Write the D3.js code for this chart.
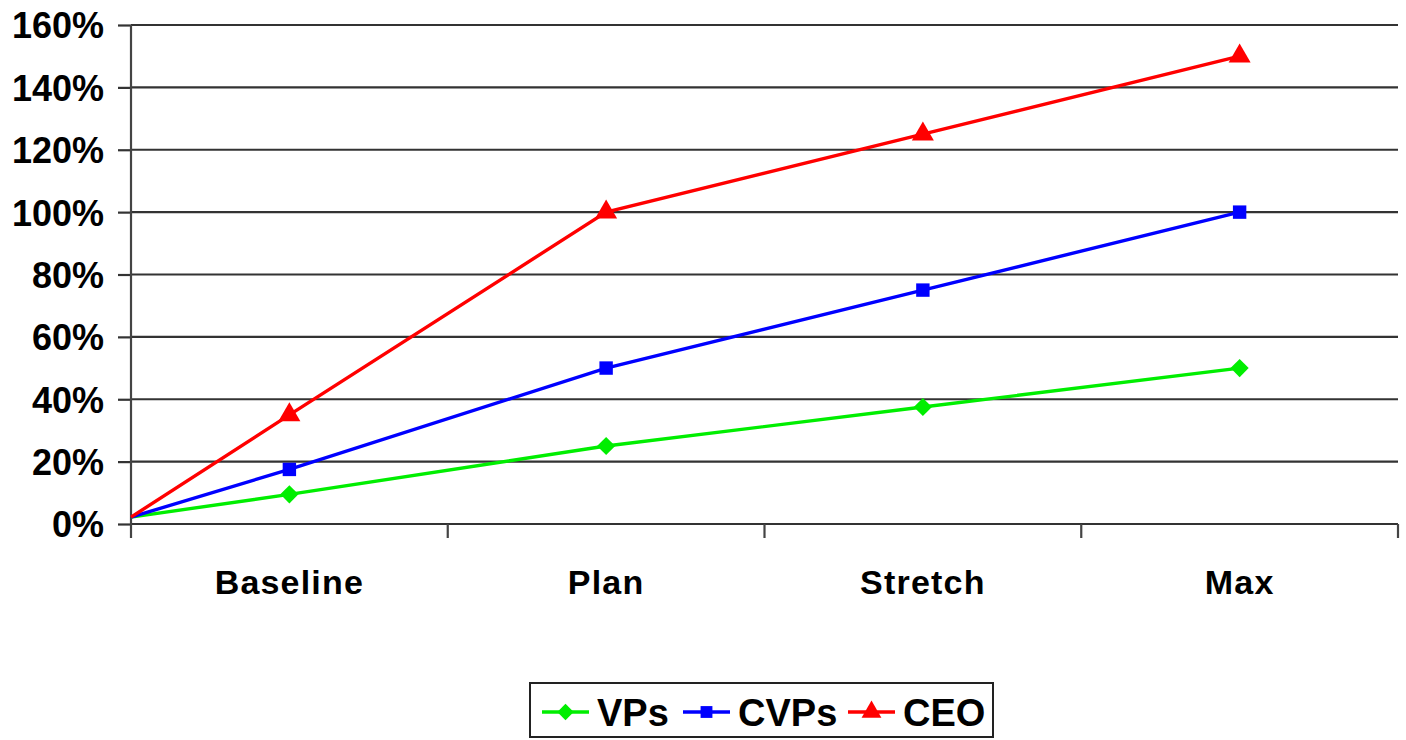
<!DOCTYPE html>
<html>
<head>
<meta charset="utf-8">
<script src="https://cdn.jsdelivr.net/npm/d3@7"></script>
<style>
  body { margin: 0; background: #fff; }
  text { font-family: "Liberation Sans", Arial, sans-serif; font-weight: bold; fill: #000; }
</style>
</head>
<body>
<div id="chart"></div>
<script>
// data
var categories = ["Baseline", "Plan", "Stretch", "Max"];
var startValue = 0.022; // lines begin at the value axis
var vps  = [0.095, 0.25, 0.375, 0.50];
var cvps = [0.175, 0.50, 0.75, 1.00];
var ceo  = [0.35, 1.00, 1.25, 1.50];
var yTicks = [0, 0.2, 0.4, 0.6, 0.8, 1.0, 1.2, 1.4, 1.6];

var series = [
  { name: "VPs",  values: vps,  color: "#00ee00", symbol: d3.symbolDiamond2 },
  { name: "CVPs", values: cvps, color: "#0000ff", symbol: d3.symbolSquare },
  { name: "CEO",  values: ceo,  color: "#ff0000", symbol: d3.symbolTriangle }
];

var W = 1406, H = 740;
var m = { left: 131, right: 8, top: 25, bottom: 216 };

var svg = d3.select("#chart").append("svg").attr("width", W).attr("height", H);

var x = d3.scaleBand().domain(categories).range([m.left, W - m.right]);
var y = d3.scaleLinear().domain([0, 1.6]).range([H - m.bottom, m.top]);

// gridlines + y ticks
var yAxis = svg.append("g")
  .attr("transform", "translate(" + m.left + ",0)")
  .call(d3.axisLeft(y).tickValues(yTicks).tickFormat(d3.format(".0%"))
        .tickSize(13).tickPadding(14));
yAxis.select(".domain").remove();
yAxis.selectAll("text").style("font-size", "36px").attr("dy", "0.36em");
yAxis.selectAll("line").attr("stroke", "#333").attr("stroke-width", 2.2);

svg.append("g").selectAll("line").data(yTicks).enter().append("line")
  .attr("x1", m.left).attr("x2", W - m.right)
  .attr("y1", function(d){ return y(d); }).attr("y2", function(d){ return y(d); })
  .attr("stroke", "#333").attr("stroke-width", 2.2);

// vertical axis line
svg.append("line")
  .attr("x1", m.left).attr("x2", m.left)
  .attr("y1", m.top).attr("y2", y(0) + 14)
  .attr("stroke", "#444").attr("stroke-width", 2.2);

// x category ticks at band edges
var edges = categories.map(function(c){ return x(c) + x.bandwidth(); });
svg.append("g").selectAll("line").data(edges).enter().append("line")
  .attr("x1", function(d){ return d; }).attr("x2", function(d){ return d; })
  .attr("y1", y(0)).attr("y2", y(0) + 14)
  .attr("stroke", "#444").attr("stroke-width", 2.2);

svg.append("g").selectAll("text").data(categories).enter().append("text")
  .attr("x", function(d){ return x(d) + x.bandwidth() / 2; })
  .attr("y", y(0) + 70)
  .attr("text-anchor", "middle")
  .style("font-size", "34px").style("letter-spacing", "1.2px")
  .text(function(d){ return d; });

// lines
var line = d3.line()
  .x(function(d){ return d[0]; })
  .y(function(d){ return y(d[1]); });

series.forEach(function(s){
  var pts = [[x.range()[0], startValue]].concat(
    s.values.map(function(v, i){ return [x(categories[i]) + x.bandwidth() / 2, v]; }));
  svg.append("path").datum(pts)
    .attr("d", line).attr("fill", "none")
    .attr("stroke", s.color).attr("stroke-width", 3.4);
  svg.append("g").selectAll("path").data(pts.slice(1)).enter().append("path")
    .attr("transform", function(d){ return "translate(" + d[0] + "," + y(d[1]) + ")"; })
    .attr("d", d3.symbol().type(s.symbol).size(s.symbol === d3.symbolSquare ? 180 : 210))
    .attr("fill", s.color);
});

// legend
var lg = svg.append("g");
lg.append("rect").attr("x", 530).attr("y", 683).attr("width", 463).attr("height", 54)
  .attr("fill", "#fff").attr("stroke", "#222").attr("stroke-width", 2);
var lx = [542, 683, 848];
series.forEach(function(s, i){
  var g = lg.append("g").attr("transform", "translate(" + lx[i] + ",712)");
  g.append("line").attr("x1", 0).attr("x2", 47).attr("stroke", s.color).attr("stroke-width", 3.4);
  g.append("path").attr("transform", "translate(23.5,0)")
    .attr("d", d3.symbol().type(s.symbol).size(s.symbol === d3.symbolSquare ? 140 : 170))
    .attr("fill", s.color);
  g.append("text").attr("x", 55).attr("y", 14).style("font-size", "38px").text(s.name);
});
</script>
</body>
</html>
